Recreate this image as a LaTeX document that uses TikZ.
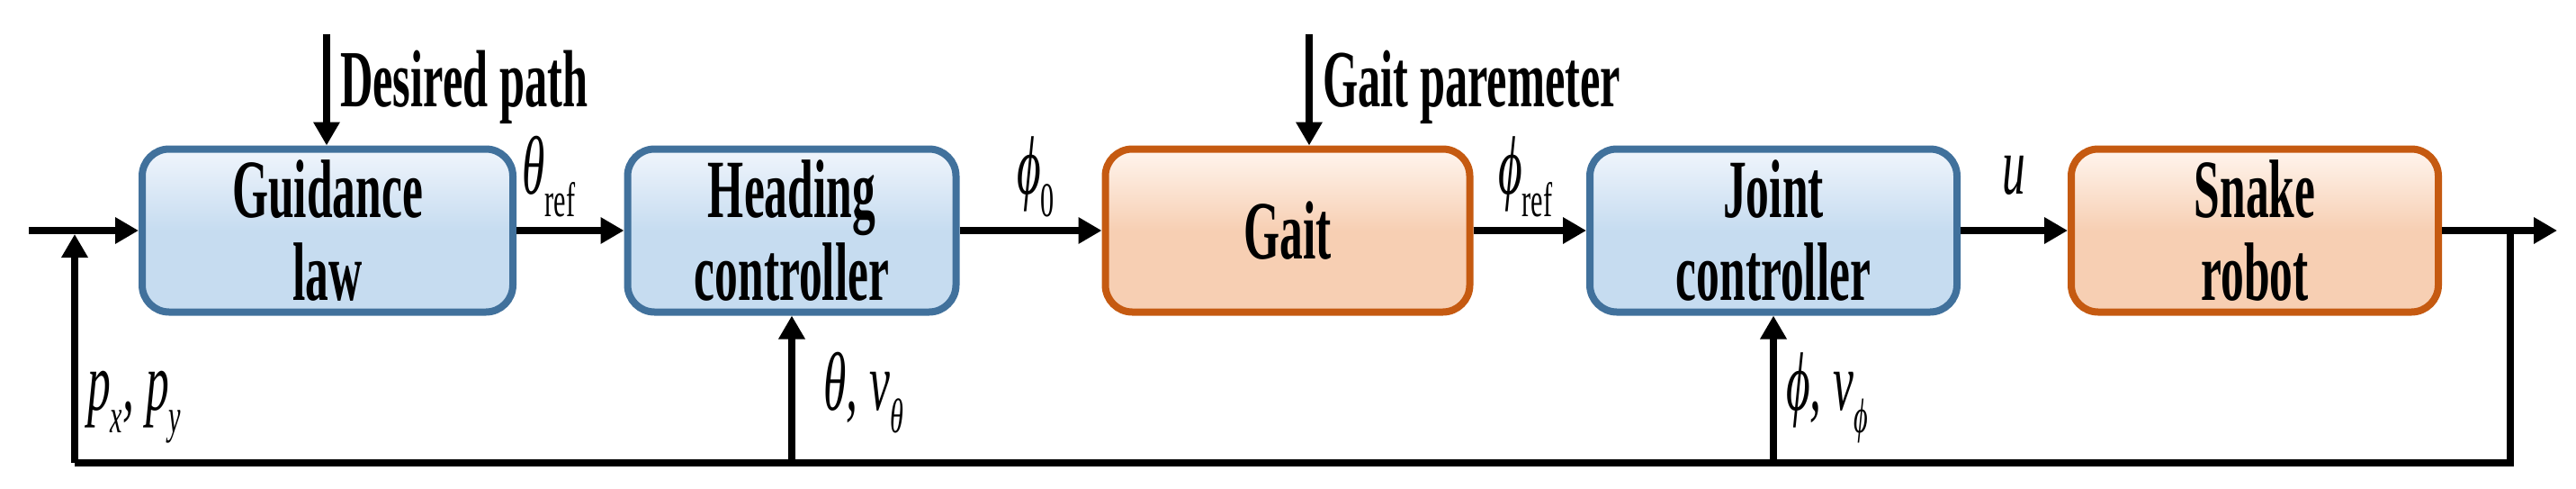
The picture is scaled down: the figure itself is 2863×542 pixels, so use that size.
\documentclass[tikz,border=0pt]{standalone}
\usepackage{fontspec}
\setmainfont{Liberation Serif}[FakeStretch=0.56]
\usetikzlibrary{arrows.meta}
\definecolor{bbord}{HTML}{41719C}\definecolor{btop}{HTML}{F0F5FC}\definecolor{bbot}{HTML}{C6DCF0}
\definecolor{obord}{HTML}{C55A11}\definecolor{otop}{HTML}{FFF5EE}\definecolor{obot}{HTML}{F7CFB3}
\newcommand{\sub}[1]{\raisebox{-0.28em}{\fontsize{54}{54}\selectfont #1}}
\begin{document}
\begin{tikzpicture}[x=1pt,y=-1pt,
  blk/.style={rounded corners=30pt,line width=8pt,minimum height=181pt,align=center,font=\fontsize{92}{92}\selectfont\bfseries},
  bblk/.style={blk,draw=bbord,top color=btop,bottom color=bbot,middle color=bbot},
  oblk/.style={blk,draw=obord,top color=otop,bottom color=obot,middle color=obot},
  ar/.style={line width=8pt,-{Triangle[length=26pt,width=28pt]}},
  ln/.style={line width=8pt},
  lab/.style={font=\fontsize{92}{92}\selectfont,inner sep=0pt},
  tlab/.style={font=\fontsize{90}{90}\selectfont\bfseries,inner sep=0pt,anchor=base west}]
\useasboundingbox (0,0) rectangle (2863,542);
\node[bblk,minimum width=412pt] (g) at (364,256) {Guidance\\law};
\node[bblk,minimum width=365pt] (h) at (880,256) {Heading\\controller};
\node[oblk,minimum width=405pt] (ga) at (1431,256) {Gait};
\node[bblk,minimum width=408pt] (j) at (1971,256) {Joint\\controller};
\node[oblk,minimum width=408pt] (s) at (2506,256) {Snake\\robot};
\coordinate (in) at (32,256);
\coordinate (out) at (2842,256);
\coordinate (dp) at (363,38);
\coordinate (gp) at (1455,38);
\coordinate (fbl) at (83,514);
\coordinate (fbr) at (2790,514);
\draw[ar] (in) -- (g.west);
\draw[ar] (g.east) -- (h.west);
\draw[ar] (h.east) -- (ga.west);
\draw[ar] (ga.east) -- (j.west);
\draw[ar] (j.east) -- (s.west);
\draw[ar] (s.east) -- (out);
\draw[ar] (dp) -- (g.north -| dp);
\draw[ar] (gp) -- (ga.north -| gp);
\draw[ln] (2790,256) -- (fbr) -- (fbl);
\draw[ar] (fbl) -- (83,260);
\draw[ar] (h.south |- fbl) -- (h.south);
\draw[ar] (j.south |- fbl) -- (j.south);
\node[tlab] (t1) at (378,118) {Desired path};
\node[tlab] (t2) at (1470,118) {Gait paremeter};
\node[lab,anchor=base west] (l1) at (580,215) {\itshape θ\sub{\upshape ref}};
\node[lab,anchor=base west] (l2) at (1130,215) {\itshape ϕ\sub{\upshape 0}};
\node[lab,anchor=base west] (l3) at (1665,215) {\itshape ϕ\sub{\upshape ref}};
\node[lab,anchor=base west] (l4) at (2225,215) {\itshape u};
\node[lab,anchor=base west] (l5) at (97,455) {\itshape p\sub{x}, p\sub{y}};
\node[lab,anchor=base west] (l6) at (915,455) {\itshape θ, v\sub{θ}};
\node[lab,anchor=base west] (l7) at (1985,455) {\itshape ϕ, v\sub{ϕ}};
\end{tikzpicture}
\end{document}
